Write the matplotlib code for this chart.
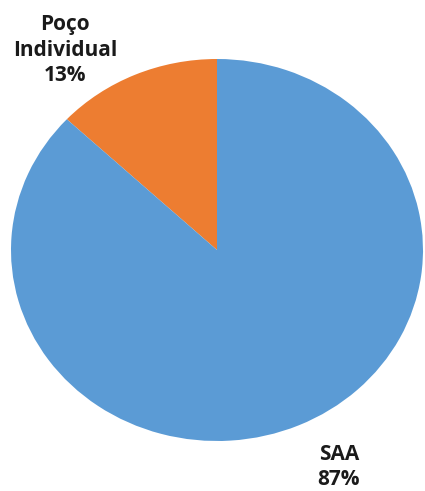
import matplotlib
matplotlib.use("Agg")
import matplotlib.pyplot as plt

# Water supply source shares
categories = ["Poço\nIndividual", "SAA"]
shares = [13, 87]
colors = ["#ED7D31", "#5B9BD5"]

fig = plt.figure(figsize=(4.25, 4.91), dpi=100)
ax = fig.add_axes([11 / 425, 50 / 491, 412 / 425, 382 / 491])

ax.pie(shares, colors=colors, startangle=90, counterclock=True,
       wedgeprops=dict(linewidth=0))
ax.set_aspect("auto")
ax.set_xlim(-1, 1)
ax.set_ylim(-1, 1)
ax.axis("off")

# labels sit outside the pie, in figure pixel coordinates
label_pos = [(65, 50), (339, 467)]
for name, val, (px, py) in zip(categories, shares, label_pos):
    fig.text(px / 425, 1 - py / 491, f"{name}\n{val}%", ha="center", va="center",
             fontsize=15, fontweight="bold", family="Open Sans", color="#1a1a1a",
             linespacing=1.3)

fig.savefig("out.png", dpi=100, facecolor="white")
